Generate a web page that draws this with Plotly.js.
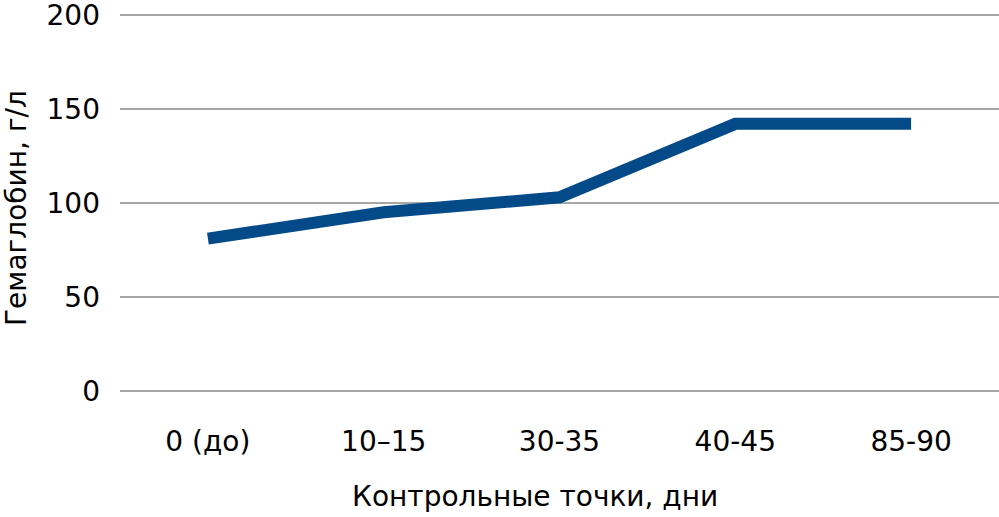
<!DOCTYPE html>
<html>
<head>
<meta charset="utf-8">
<script src="https://cdn.plot.ly/plotly-3.0.1.min.js"></script>
<style>html,body{margin:0;padding:0;background:#fff;}#chart{width:999px;height:517px;}</style>
</head>
<body>
<div id="chart"></div>
<script>
const categories = ["0 (до)", "10–15", "30-35", "40-45", "85-90"];
const hemoglobin = [81, 95, 103, 142, 142];
const yTicks = [0, 50, 100, 150, 200];
const xTitle = "Контрольные точки, дни";
const yTitle = "Гемаглобин, г/л";

const W = 999, H = 517, L = 120, R = 0, T = 11, B = 126;
const pw = W - L - R, ph = H - T - B;
const font = {family: "DejaVu Sans, Verdana, sans-serif", size: 28, color: "#000"};

Plotly.newPlot("chart", [{
  type: "scatter", mode: "lines",
  x: categories, y: hemoglobin,
  line: {color: "#044a88", width: 12},
  hoverinfo: "skip"
}], {
  width: W, height: H,
  margin: {l: L, r: R, t: T, b: B, pad: 0},
  paper_bgcolor: "#fff", plot_bgcolor: "#fff",
  showlegend: false,
  font: font,
  xaxis: {
    type: "category", range: [-0.5, 4.5], showgrid: false, zeroline: false,
    showline: false, ticks: "", tickfont: font, ticklabelstandoff: 31
  },
  yaxis: {
    range: [0, 202], tickvals: yTicks, ticktext: yTicks.map(String),
    showgrid: true, gridcolor: "#a6a6a6", gridwidth: 2,
    zeroline: true, zerolinecolor: "#a6a6a6", zerolinewidth: 2,
    showline: false, ticks: "", tickfont: font, ticklabelstandoff: 19,
    ticklabeloverflow: "allow"
  },
  annotations: [
    {text: xTitle, xref: "paper", yref: "paper", x: (535 - L) / pw, y: (H - B - 496) / ph,
     xanchor: "center", yanchor: "middle", showarrow: false, font: font},
    {text: yTitle, xref: "paper", yref: "paper", x: (17 - L) / pw, y: (H - B - 208) / ph,
     xanchor: "center", yanchor: "middle", textangle: -90, showarrow: false, font: font}
  ]
}, {staticPlot: true, displayModeBar: false});
</script>
</body>
</html>
